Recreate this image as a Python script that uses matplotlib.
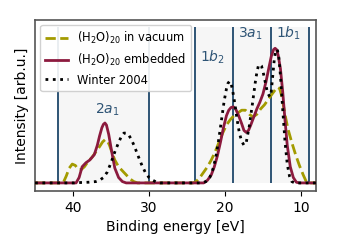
import matplotlib
matplotlib.use("Agg")
import matplotlib.pyplot as plt
import numpy as np

# binding energies [eV] and intensities
e_vac = [45, 41.3, 40.9, 40.5, 40.1, 39.7, 39.3, 38.9, 38.5, 38.0, 37.5, 37.0, 36.5,
         36.1, 35.8, 35.5, 35.2, 34.9, 34.5, 34.0, 33.5, 33.0, 32.5, 32.0, 31.5, 24.2,
         23.8, 23.3, 22.8, 22.3, 21.8, 21.3, 20.8, 20.3, 19.8, 19.3, 18.8, 18.3,
         17.8, 17.3, 16.8, 16.3, 15.8, 15.3, 14.8, 14.3, 13.8, 13.4, 13.1, 12.8,
         12.5, 12.1, 11.7, 11.2, 10.7, 10.2, 9.7, 9.3, 9.0, 8]
i_vac = [0, 0, 0.05, 0.11, 0.14, 0.13, 0.10, 0.10, 0.12, 0.16, 0.19, 0.23, 0.27,
         0.305, 0.32, 0.315, 0.28, 0.23, 0.17, 0.12, 0.09, 0.06, 0.03, 0.01, 0, 0,
         0.01, 0.04, 0.08, 0.12, 0.17, 0.23, 0.30, 0.37, 0.43, 0.47, 0.50, 0.52,
         0.54, 0.54, 0.51, 0.49, 0.51, 0.55, 0.58, 0.62, 0.66, 0.69, 0.71, 0.70,
         0.64, 0.51, 0.40, 0.30, 0.21, 0.13, 0.06, 0.01, 0, 0]

e_emb = [45, 39.6, 39.2, 38.8, 38.3, 37.8, 37.2, 36.8, 36.5, 36.2, 36.0, 35.8,
         35.6, 35.3, 34.9, 34.5, 34.0, 33.5, 33.0, 22.8, 22.3, 21.8, 21.4, 21.0,
         20.6, 20.2, 19.8, 19.5, 19.2, 18.9, 18.6, 18.2, 17.8, 17.5, 17.2, 16.9,
         16.6, 16.2, 15.8, 15.4, 15.0, 14.6, 14.2, 13.9, 13.6, 13.4, 13.2, 13.0,
         12.7, 12.4, 12.1, 11.8, 11.4, 11.0, 10.6, 10.2, 8]
i_emb = [0, 0, 0.04, 0.12, 0.15, 0.17, 0.21, 0.28, 0.35, 0.41, 0.435, 0.445,
         0.43, 0.36, 0.23, 0.11, 0.04, 0.01, 0, 0, 0.02, 0.06, 0.12, 0.20,
         0.30, 0.41, 0.50, 0.54, 0.56, 0.565, 0.55, 0.50, 0.44, 0.39, 0.375, 0.39,
         0.43, 0.49, 0.55, 0.60, 0.66, 0.75, 0.86, 0.94, 0.99, 1.0, 0.99, 0.95,
         0.85, 0.68, 0.47, 0.28, 0.12, 0.04, 0.005, 0, 0]

e_win = [45, 39.8, 39.0, 38.0, 37.0, 36.5, 36.0, 35.5, 35.0, 34.5, 34.0, 33.6,
         33.3, 33.0, 32.7, 32.3, 31.9, 31.5, 31.0, 30.5, 30.0, 29.5, 29.0, 28.5,
         23.0, 22.5, 22.0, 21.6, 21.2, 20.8, 20.4, 20.1, 19.8, 19.6, 19.4, 19.2,
         19.0, 18.7, 18.4, 18.1, 17.8, 17.5, 17.2, 16.8, 16.4, 16.0, 15.8, 15.6,
         15.4, 15.2, 15.0, 14.7, 14.4, 14.1, 13.9, 13.7, 13.5, 13.3, 13.1, 12.9,
         12.7, 12.4, 12.1, 11.8, 11.5, 11.2, 10.8, 8]
i_win = [0, 0, 0.003, 0.005, 0.01, 0.02, 0.04, 0.08, 0.15, 0.23, 0.30, 0.35,
         0.37, 0.37, 0.36, 0.32, 0.27, 0.21, 0.14, 0.08, 0.04, 0.02, 0.005, 0,
         0, 0.01, 0.04, 0.10, 0.19, 0.33, 0.49, 0.61, 0.70, 0.74, 0.755, 0.74,
         0.69, 0.59, 0.47, 0.37, 0.31, 0.28, 0.30, 0.42, 0.58, 0.75, 0.82, 0.87,
         0.88, 0.87, 0.83, 0.75, 0.67, 0.64, 0.68, 0.80, 0.92, 0.985, 0.99, 0.93,
         0.80, 0.55, 0.31, 0.14, 0.05, 0.01, 0, 0]

# orbital band boundaries and labels
bounds = [42, 30, 24, 19, 14, 9]
bands = [(42, 30), (24, 9)]
band_labels = ["$2a_1$", "$1b_2$", "$3a_1$", "$1b_1$"]
label_pos = [(35.5, 0.54), (21.7, 0.93), (16.6, 1.11), (11.7, 1.11)]

blue = "#2e5475"
top = 1.156

fig = plt.figure(figsize=(3.37, 2.5), dpi=100)
ax = fig.add_axes([0.104, 0.236, 0.834, 0.684])

for a, b in bands:
    ax.fill_between([a, b], 0, top, color="#f6f6f6", lw=0, zorder=0)
ax.vlines(bounds, 0, top, color=blue, lw=1.4, zorder=1)
for lab, (x, y) in zip(band_labels, label_pos):
    ax.text(x, y, lab, color=blue, fontsize=10, ha="center", va="center")

ax.plot(e_vac, i_vac, ls="--", color="#a39b00", lw=2, zorder=3,
        label="(H$_2$O)$_{20}$ in vacuum")
ax.plot(e_emb, i_emb, ls="-", color="#8c1a3e", lw=2, zorder=4,
        label="(H$_2$O)$_{20}$ embedded")
ax.plot(e_win, i_win, ls=":", color="black", lw=2, zorder=5,
        label="Winter 2004")

ax.set_xlim(45, 8)
ax.set_ylim(-0.06, 1.21)
ax.set_yticks([])
ax.set_xticks([40, 30, 20, 10])
ax.tick_params(axis="x", labelsize=10, length=3.5)
ax.set_xlabel("Binding energy [eV]", fontsize=10)
ax.set_ylabel("Intensity [arb.u.]", fontsize=10)
for s in ax.spines.values():
    s.set_color("#555555")
    s.set_linewidth(1.2)

ax.legend(loc="upper left", fontsize=8.3, framealpha=0.9, edgecolor="#cccccc",
          handlelength=2.0, borderaxespad=0.45)

fig.savefig("out.png", dpi=100)
